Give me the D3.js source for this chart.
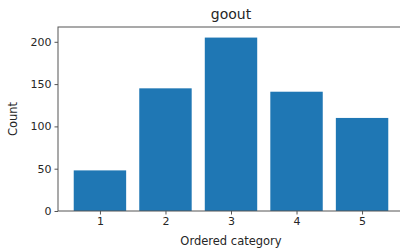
<!DOCTYPE html>
<html><head><meta charset="utf-8">
<script src="https://cdn.jsdelivr.net/npm/d3@7"></script>
<style>body{margin:0;background:#fff}svg{display:block}text{font-family:"DejaVu Sans",sans-serif;fill:#262626}</style>
</head><body><svg id="c" width="400" height="249"></svg>
<script>
const categories = ["1","2","3","4","5"];
const counts = [48, 145, 205, 141, 110];
const yTicks = [0, 50, 100, 150, 200];
const title = "goout";
const xLabel = "Ordered category";
const yLabel = "Count";

const svg = d3.select("#c");
const L = 58, R = 404, T = 27, B = 211;
const x = d3.scaleLinear().domain([0.36, 5.64]).range([L, R]);
const y = d3.scaleLinear().domain([0, 217.5]).range([B, T]);
const bw = x(0.8) - x(0);

svg.selectAll("rect.bar").data(counts).join("rect").attr("class","bar")
  .attr("x", (d,i) => x(i+1) - bw/2).attr("width", bw)
  .attr("y", d => y(d)).attr("height", d => B - y(d)).attr("fill", "#1f77b4");

const ax = svg.append("g").attr("transform", `translate(0,${B})`)
  .call(d3.axisBottom(x).tickValues([1,2,3,4,5]).tickFormat((d,i)=>categories[i]).tickSize(3.5).tickPadding(3));
const ay = svg.append("g").attr("transform", `translate(${L},0)`)
  .call(d3.axisLeft(y).tickValues(yTicks).tickSize(3.5).tickPadding(3));
[ax, ay].forEach(g => {
  g.select(".domain").remove();
  g.selectAll("line").attr("stroke", "#555");
  g.selectAll("text").attr("font-size", 11).attr("fill", "#262626").attr("font-family", "DejaVu Sans");
});
// spines
svg.append("rect").attr("x", L).attr("y", T).attr("width", R-L).attr("height", B-T)
  .attr("fill","none").attr("stroke","#555").attr("stroke-width",1);

svg.append("text").attr("x", (L+R)/2).attr("y", 19).attr("text-anchor","middle").attr("font-size",14).text(title);
svg.append("text").attr("x", (L+R)/2).attr("y", 245).attr("text-anchor","middle").attr("font-size",11.5).text(xLabel);
svg.append("text").attr("transform", `translate(17,${(T+B)/2}) rotate(-90)`).attr("text-anchor","middle").attr("font-size",11.5).text(yLabel);
</script></body></html>
